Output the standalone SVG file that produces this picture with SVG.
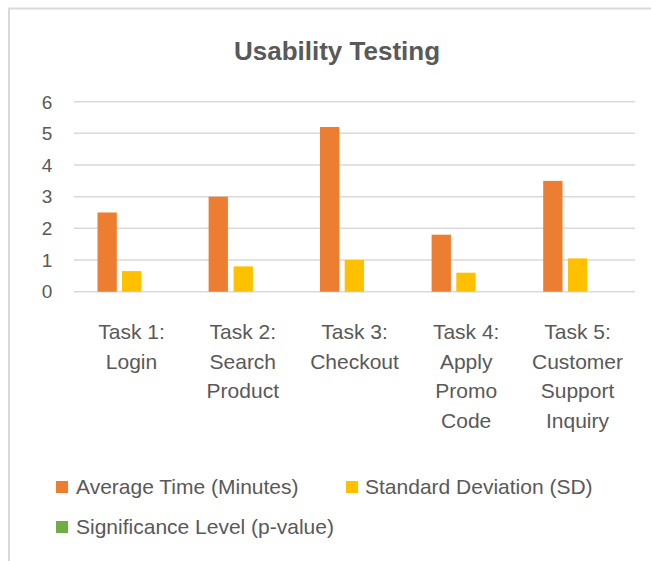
<svg xmlns="http://www.w3.org/2000/svg" width="651" height="561" viewBox="0 0 651 561">
<style>
.t{font-family:"Liberation Sans",Arial,sans-serif;fill:#595959}
.title{font-size:26px;font-weight:bold;text-anchor:middle}
.ax{font-size:19px;text-anchor:middle}
.cat{font-size:21px;text-anchor:middle}
.leg{font-size:21px}
.grid{stroke:#d9d9d9;stroke-width:1.5}
.avg{fill:#ED7D31}
.sd{fill:#FFC000}
.pv{fill:#70AD47}
</style>
<rect x="0" y="0" width="651" height="561" fill="#ffffff"/>
<path d="M9 561 V8.5 H651" fill="none" stroke="#d9d9d9" stroke-width="2"/>
<g id="title"><text class="t title" x="337" y="60">Usability Testing</text></g>
<g id="grid">
<line class="grid" x1="74" y1="101.7" x2="635" y2="101.7"/>
<line class="grid" x1="74" y1="133.3" x2="635" y2="133.3"/>
<line class="grid" x1="74" y1="165" x2="635" y2="165"/>
<line class="grid" x1="74" y1="196.7" x2="635" y2="196.7"/>
<line class="grid" x1="74" y1="228.3" x2="635" y2="228.3"/>
<line class="grid" x1="74" y1="260" x2="635" y2="260"/>
<line class="grid" x1="74" y1="291.7" x2="635" y2="291.7"/>
</g>
<g id="yaxis">
<text class="t ax" x="47" y="108.5">6</text>
<text class="t ax" x="47" y="140">5</text>
<text class="t ax" x="47" y="171.7">4</text>
<text class="t ax" x="47" y="203.4">3</text>
<text class="t ax" x="47" y="235">2</text>
<text class="t ax" x="47" y="266.7">1</text>
<text class="t ax" x="47" y="298.4">0</text>
</g>
<g id="bars">
<rect class="avg" x="97.5" y="212.5" width="19.3" height="79.2"/>
<rect class="sd" x="122" y="271.1" width="19.3" height="20.6"/>
<rect class="avg" x="208.6" y="196.7" width="19.3" height="95"/>
<rect class="sd" x="233.6" y="266.4" width="19.3" height="25.3"/>
<rect class="avg" x="320" y="127" width="19.3" height="164.7"/>
<rect class="sd" x="344.7" y="260" width="19.3" height="31.7"/>
<rect class="avg" x="431.6" y="234.7" width="19.3" height="57"/>
<rect class="sd" x="456.3" y="272.7" width="19.3" height="19"/>
<rect class="avg" x="543.2" y="180.9" width="19.3" height="110.8"/>
<rect class="sd" x="568" y="258.4" width="19.3" height="33.3"/>
</g>
<g id="categories">
<text class="t cat" x="131.5" y="339">Task 1:<tspan x="131.5" dy="29.5">Login</tspan></text>
<text class="t cat" x="242.8" y="339">Task 2:<tspan x="242.8" dy="29.5">Search</tspan><tspan x="242.8" dy="29.5">Product</tspan></text>
<text class="t cat" x="354.5" y="339">Task 3:<tspan x="354.5" dy="29.5">Checkout</tspan></text>
<text class="t cat" x="466.2" y="339">Task 4:<tspan x="466.2" dy="29.5">Apply</tspan><tspan x="466.2" dy="29.5">Promo</tspan><tspan x="466.2" dy="29.5">Code</tspan></text>
<text class="t cat" x="577.5" y="339">Task 5:<tspan x="577.5" dy="29.5">Customer</tspan><tspan x="577.5" dy="29.5">Support</tspan><tspan x="577.5" dy="29.5">Inquiry</tspan></text>
</g>
<g id="legend">
<rect class="avg" x="56" y="481" width="12" height="12"/>
<text class="t leg" x="76" y="494">Average Time (Minutes)</text>
<rect class="sd" x="346" y="481" width="12" height="12"/>
<text class="t leg" x="365" y="494">Standard Deviation (SD)</text>
<rect class="pv" x="56" y="521" width="12" height="12"/>
<text class="t leg" x="76" y="534">Significance Level (p-value)</text>
</g>
</svg>
